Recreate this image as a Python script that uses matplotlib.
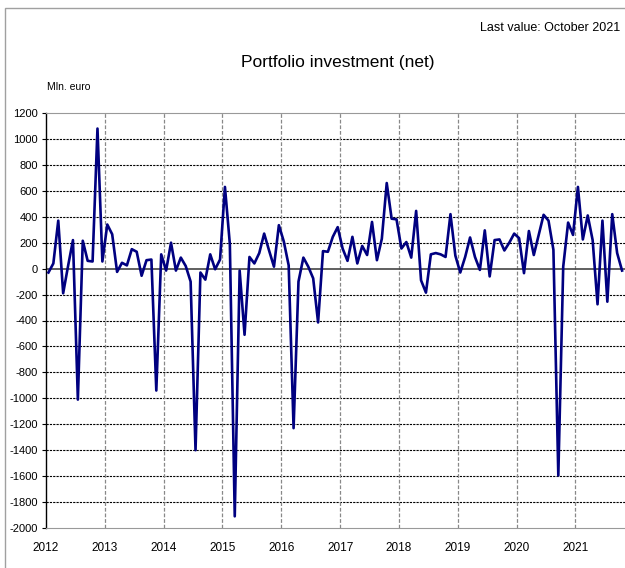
import numpy as np
import matplotlib
matplotlib.use("Agg")
import matplotlib.pyplot as plt
from matplotlib.patches import Rectangle

plt.rcParams['font.family'] = ['Liberation Sans Narrow', 'Liberation Sans', 'DejaVu Sans']

# monthly values, Jan 2012 - Oct 2021 (Mln. euro)
vals_2012 = [-30, 40, 370, -190, 20, 220, -1010, 215, 60, 55, 1080, 55]
vals_2013 = [340, 265, -25, 45, 25, 150, 130, -55, 65, 70, -940, 110]
vals_2014 = [-15, 200, -15, 85, 20, -100, -1400, -30, -85, 110, -5, 70]
vals_2015 = [630, 190, -1910, -15, -510, 90, 40, 120, 270, 140, 15, 335]
vals_2016 = [210, 25, -1230, -100, 85, 15, -75, -415, 135, 130, 245, 320]
vals_2017 = [155, 60, 245, 40, 175, 105, 360, 65, 230, 660, 385, 380]
vals_2018 = [155, 205, 85, 445, -90, -185, 110, 120, 110, 90, 420, 100]
vals_2019 = [-30, 90, 240, 90, -10, 295, -60, 220, 225, 140, 200, 270]
vals_2020 = [235, -35, 290, 105, 260, 415, 370, 145, -1595, 15, 355, 260]
vals_2021 = [630, 225, 410, 220, -275, 370, -255, 420, 120, -15]

values = (vals_2012 + vals_2013 + vals_2014 + vals_2015 + vals_2016 +
          vals_2017 + vals_2018 + vals_2019 + vals_2020 + vals_2021)
years = ['2012', '2013', '2014', '2015', '2016', '2017', '2018', '2019', '2020', '2021']
yticks = list(range(-2000, 1201, 200))

fig = plt.figure(figsize=(6.25, 5.68), dpi=100)
W, H = 625, 568

# outer frame
fig.patches.append(Rectangle((5 / W, -0.05), 1.1, 1 - 8 / H + 0.05,
                             transform=fig.transFigure, fill=False,
                             edgecolor='#a0a0a0', linewidth=1.0))

ax = fig.add_axes([46 / W, 1 - 528 / H, (624.5 - 46) / W, (528 - 113) / H])

n = len(values)
x = np.arange(n) + 0.5
ax.set_xlim(0, n)
ax.set_ylim(-2000, 1200)

# grid
for yv in yticks:
    if yv in (-2000, 1200, 0):
        continue
    ax.axhline(yv, color='black', linestyle=(0, (2, 1)), linewidth=0.8, zorder=1)
for i in range(1, len(years)):
    ax.axvline(i * 12, color='#888888', linestyle=(0, (3, 1.5)), linewidth=0.9, zorder=1)
ax.axhline(0, color='#444444', linewidth=1.2, zorder=2)

ax.plot(x, values, color='#000080', linewidth=1.9, zorder=3)

ax.set_yticks(yticks)
ax.set_yticklabels([str(v) for v in yticks], fontsize=8)
ax.set_xticks([i * 12 for i in range(len(years))])
ax.set_xticklabels(years, fontsize=8.5)
ax.tick_params(axis='x', length=0, pad=10)
ax.tick_params(axis='y', length=3, width=0.8, pad=3)

ax.spines['left'].set_color('black')
ax.spines['left'].set_linewidth(1.0)
ax.spines['top'].set_color('#999999')
ax.spines['bottom'].set_color('#999999')
ax.spines['right'].set_visible(False)

fig.text(620 / W, 1 - 28 / H, 'Last value: October 2021', ha='right', va='center', fontsize=9)
fig.text(338 / W, 1 - 62 / H, 'Portfolio investment (net)', ha='center', va='center', fontsize=12.5)
fig.text(47 / W, 1 - 87 / H, 'Mln. euro', ha='left', va='center', fontsize=7.5)

fig.savefig('out.png', dpi=100)
